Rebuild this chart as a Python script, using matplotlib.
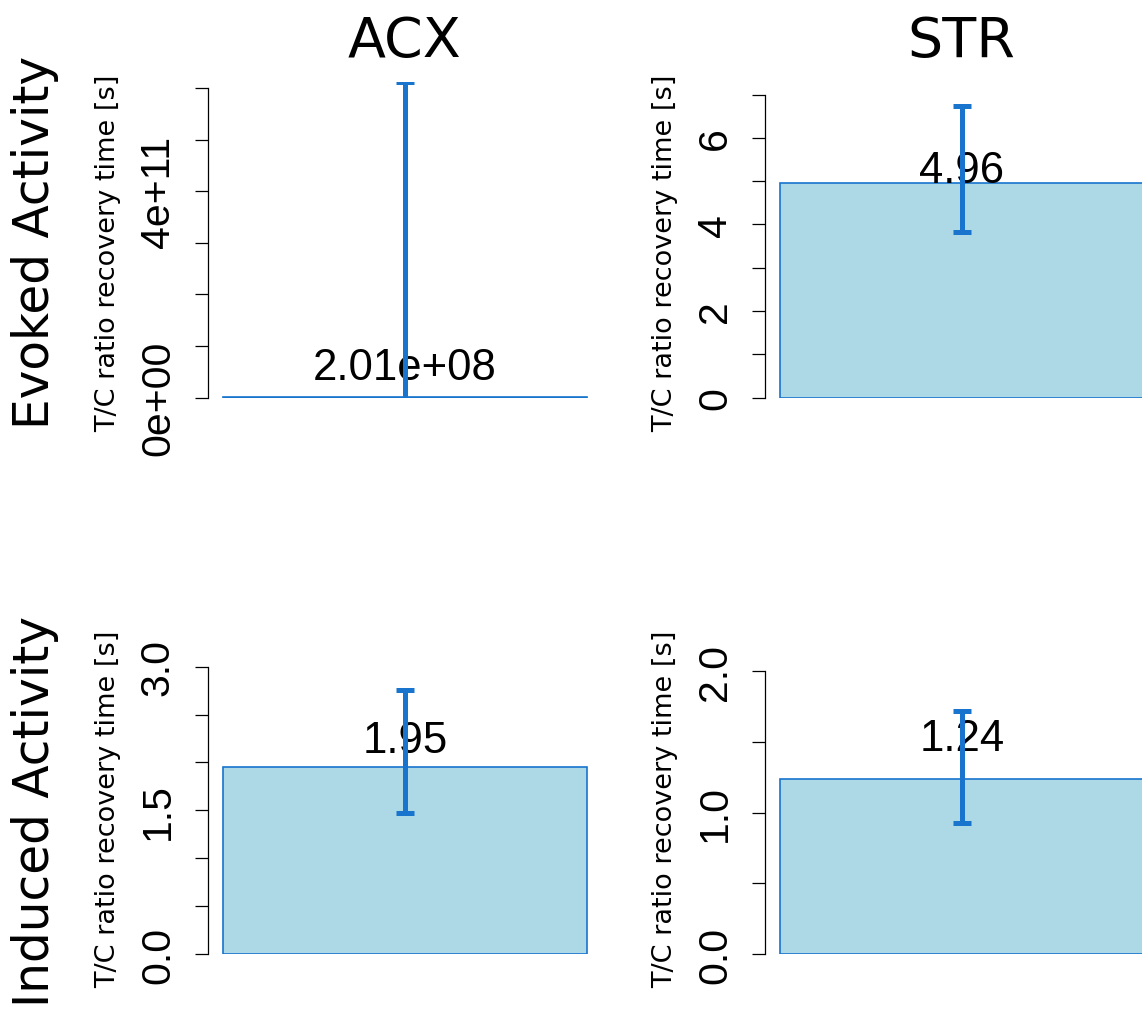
import matplotlib
matplotlib.use("Agg")
import matplotlib.pyplot as plt
import numpy as np

W, H, DPI = 1142, 1012, 100

regions = ["ACX", "STR"]
activities = ["Evoked Activity", "Induced Activity"]

# T/C ratio recovery time per activity (rows) and region (columns)
means = [[2.01e8, 4.96], [1.95, 1.24]]
upper = [[6.12e11, 6.74], [2.76, 1.72]]
lower = [[-6.11e11, 3.83], [1.47, 0.93]]

# axis setup per panel
ytop = [[6.116e11, 7.29], [3.295, 2.233]]
yticks = [[[0, 1e11, 2e11, 3e11, 4e11, 5e11, 6e11], [0, 1, 2, 3, 4, 5, 6, 7]],
          [[0, 0.5, 1.0, 1.5, 2.0, 2.5, 3.0], [0, 0.5, 1.0, 1.5, 2.0]]]
ytick_labels = [[["0e+00", "", "", "", "4e+11", "", ""], ["0", "", "2", "", "4", "", "6", ""]],
                [["0.0", "", "", "1.5", "", "", "3.0"], ["0.0", "", "1.0", "", "2.0"]]]
label_offset_px = [[30, 12.5], [27, 40]]

BAR_FILL = "#ADD8E6"
BLUE = "#1874CD"
PT = 72.0 / DPI

# panel boxes in pixels: left, top, width, height
col_left = [208, 765]
row_top = [83, 639.5]
pw, ph = 393.6, 315.5

fig = plt.figure(figsize=(W / DPI, H / DPI), dpi=DPI)

for r in range(2):
    for c in range(2):
        x0, y0 = col_left[c], row_top[r]
        ax = fig.add_axes([x0 / W, 1 - (y0 + ph) / H, pw / W, ph / H])
        m = means[r][c]
        ax.bar(0, m, width=1.0, color=BAR_FILL, edgecolor=BLUE, linewidth=1.2, zorder=1)
        ax.annotate(f"{m:.3g}", (0, m), xytext=(0, label_offset_px[r][c] * PT),
                    textcoords="offset points", ha="center", va="center",
                    fontsize=31.5, family="Liberation Sans", zorder=1.5)
        ax.errorbar(0, m, yerr=[[m - lower[r][c]], [upper[r][c] - m]], fmt="none",
                    ecolor=BLUE, elinewidth=3.6, capsize=6.5, capthick=3.6, zorder=2)
        ax.set_xlim(-0.54, 0.54)
        ax.set_ylim(0, ytop[r][c])
        ax.set_xticks([])
        ax.set_yticks(yticks[r][c])
        ax.set_yticklabels(ytick_labels[r][c], rotation=90, va="center",
                           fontsize=29.5, family="Liberation Sans")
        ax.tick_params(axis="y", length=9.4, width=0.9, pad=13)
        for s in ("top", "right", "bottom"):
            ax.spines[s].set_visible(False)
        ax.spines["left"].set_linewidth(0.9)
        ax.spines["left"].set_bounds(0, yticks[r][c][-1])
        ax.patch.set_visible(False)
        if r == 0:
            ax.set_title(regions[c], fontsize=40, family="DejaVu Sans", pad=19)
        # y label sits a little below the panel centre
        fig.text((x0 - 100) / W, 1 - (y0 + ph / 2 + 12) / H,
                 "T/C ratio recovery time [s]", rotation=90, ha="center", va="center",
                 fontsize=19.5, family="DejaVu Sans")

for r in range(2):
    fig.text(35 / W, 1 - (row_top[r] + ph / 2 + (2 if r == 0 else 14)) / H, activities[r],
             rotation=90, ha="center", va="center", fontsize=35, family="DejaVu Sans")

fig.savefig("out.png", dpi=DPI)
